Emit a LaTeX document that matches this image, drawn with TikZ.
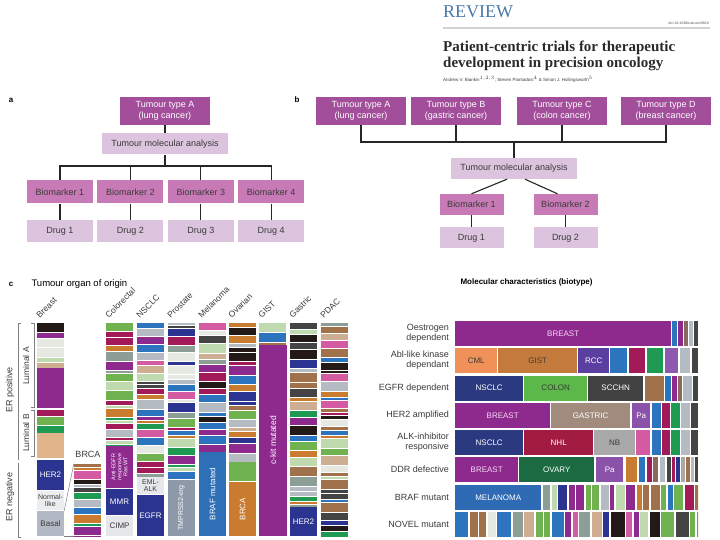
\documentclass[tikz,border=0pt]{standalone}
\usepackage{fontspec}
\setmainfont{Liberation Sans}
\newfontfamily\serifface{Liberation Serif}
\usepackage{tikz}
\usetikzlibrary{positioning}

\definecolor{tumourcol}{HTML}{A24E9A}
\definecolor{markercol}{HTML}{C77AB5}
\definecolor{lightcol}{HTML}{DCC4DE}
\definecolor{reviewcol}{HTML}{4878A8}
\definecolor{titlecol}{HTML}{2A2A2A}
\definecolor{textgray}{HTML}{3A3A3A}
% stripe palette
\definecolor{sc1}{HTML}{8E2A8E}
\definecolor{sc2}{HTML}{444444}
\definecolor{sc3}{HTML}{A0714A}
\definecolor{sc4}{HTML}{CDAE92}
\definecolor{sc5}{HTML}{B5BBC2}
\definecolor{sc6}{HTML}{BFDAAE}
\definecolor{sc7}{HTML}{1E9A52}
\definecolor{sc8}{HTML}{A31A58}
\definecolor{sc9}{HTML}{2C74BE}
\definecolor{sc10}{HTML}{2B3490}
\definecolor{sc11}{HTML}{C97B30}
\definecolor{sc12}{HTML}{231A18}
\definecolor{sc13}{HTML}{8D9E96}
\definecolor{sc14}{HTML}{6FB24F}
\definecolor{sc15}{HTML}{E6E8E2}
\definecolor{sc16}{HTML}{D45AA2}
\definecolor{beigecol}{HTML}{E2B48C}
\definecolor{normalcol}{HTML}{ECEDEF}
\definecolor{basalcol}{HTML}{B3BAC6}
\definecolor{cimpcol}{HTML}{E6E7EB}
\definecolor{tmprsscol}{HTML}{8D99A8}
\definecolor{brafcol}{HTML}{2E6FB5}
\definecolor{cmlcol}{HTML}{F0915A}
\definecolor{gistcol}{HTML}{C47A3A}
\definecolor{rcccol}{HTML}{5B3FA0}
\definecolor{nsclccol}{HTML}{2B3A80}
\definecolor{coloncol}{HTML}{5CB848}
\definecolor{scchncol}{HTML}{424242}
\definecolor{gastriccol}{HTML}{A08B7C}
\definecolor{pacol}{HTML}{8A52A8}
\definecolor{nhlcol}{HTML}{A21C42}
\definecolor{nbcol}{HTML}{A9A9A9}
\definecolor{ovarycol}{HTML}{1B6A42}
\definecolor{melcol}{HTML}{2F6AB5}
\definecolor{lilaccol}{HTML}{8E5AB0}
\definecolor{taupecol}{HTML}{8A6A60}
\definecolor{pinkwhite}{HTML}{F4D8F4}

% random stripes down a column: x left, y top, y bottom, seed
\newcommand{\organstripes}[4]{%
  \begin{scope}
    \clip (#1,#2) rectangle (#1+27,#3);
    \pgfmathsetseed{#4}
    \xdef\stripeY{#2}
    \foreach \i in {1,...,50}{
      \pgfmathsetmacro\stripeH{random(2,9)}
      \pgfmathtruncatemacro\stripeC{random(1,16)}
      \fill[fill=sc\stripeC] (#1,\stripeY) rectangle (#1+27,\stripeY+\stripeH);
      \pgfmathsetmacro\nextPos{\stripeY+\stripeH+1}
      \xdef\stripeY{\nextPos}
    }
  \end{scope}}

% random stripes along a bar: x left, x right, y top, seed, min, max width
\newcommand{\barstripes}[6]{%
  \begin{scope}
    \clip (#1,#3) rectangle (#2,#3+25);
    \pgfmathsetseed{#4}
    \xdef\stripeX{#1}
    \foreach \i in {1,...,45}{
      \pgfmathsetmacro\stripeW{random(#5,#6)}
      \pgfmathtruncatemacro\stripeC{random(1,16)}
      \fill[fill=sc\stripeC] (\stripeX,#3) rectangle (\stripeX+\stripeW,#3+25);
      \pgfmathsetmacro\nextPos{\stripeX+\stripeW+1.5}
      \xdef\stripeX{\nextPos}
    }
  \end{scope}}

\begin{document}
\begin{tikzpicture}[x=1pt, y=-1pt]
	\tikzstyle{every node}=[font=\fontsize{9}{10.5}\selectfont, text=textgray]
	\tikzstyle{tumour}=[rectangle, fill=tumourcol, text=white, minimum width=90pt, minimum height=28pt, align=center, inner sep=1pt]
	\tikzstyle{analysis}=[rectangle, fill=lightcol, minimum width=126pt, minimum height=21pt, inner sep=1pt]
	\tikzstyle{marker}=[rectangle, fill=markercol, minimum width=66pt, minimum height=23pt, inner sep=1pt]
	\tikzstyle{drug}=[rectangle, fill=lightcol, minimum width=66pt, minimum height=22pt, inner sep=1pt]
	\tikzstyle{conn}=[line width=1.1pt, black!85]
	\tikzstyle{block}=[rectangle, inner sep=0pt, minimum width=27pt, align=center, text=white, font=\fontsize{8}{9}\selectfont]
	\tikzstyle{collabel}=[anchor=south west, rotate=45, inner sep=0pt, font=\fontsize{8.5}{9}\selectfont]
	\tikzstyle{rowlabel}=[anchor=east, align=right, inner sep=0pt, font=\fontsize{9}{10}\selectfont]
	\tikzstyle{seg}=[rectangle, anchor=west, inner sep=0pt, minimum height=25pt, text=white, font=\fontsize{8}{9}\selectfont]
	\tikzstyle{bracket}=[gray, line width=0.5pt]

	\useasboundingbox (0,0) rectangle (720,540);

	% header
	\node[anchor=north west, inner sep=0pt, text=reviewcol, font=\serifface\fontsize{18}{18}\selectfont] (review) at (443,6) {REVIEW};
	\draw[line width=2.5pt, gray!35] (443,28) -- (710,28);
	\node[anchor=east, inner sep=0pt, text=gray, font=\bfseries\fontsize{3.5}{4}\selectfont] (doi) at (709,23) {doi:10.1038/nature15819};
	\node[anchor=north west, inner sep=0pt, align=left, text=titlecol, font=\serifface\bfseries\fontsize{15}{16}\selectfont] (title) at (443,41) {Patient-centric trials for therapeutic\\development in precision oncology};
	\node[anchor=west, inner sep=0pt, font=\fontsize{4.5}{5}\selectfont] (authors) at (443,79) {Andrew V. Biankin$^{1,2,3}$, Steven Piantadosi$^{4}$ \& Simon J. Hollingsworth$^{5}$};

	% panel labels
	\node[text=black, font=\bfseries\fontsize{8}{9}\selectfont] (labelA) at (11,100) {a};
	\node[text=black, font=\bfseries\fontsize{8}{9}\selectfont] (labelB) at (297,100) {b};
	\node[text=black, font=\bfseries\fontsize{8}{9}\selectfont] (labelC) at (11,284) {c};

	% panel a
	\node[tumour] (tumourA) at (165,111) {Tumour type A\\(lung cancer)};
	\node[analysis, below=8pt of tumourA] (analysisA) {Tumour molecular analysis};
	\node[marker] (bioA1) at (60,192) {Biomarker 1};
	\node[marker, right=4pt of bioA1] (bioA2) {Biomarker 2};
	\node[marker, right=4pt of bioA2] (bioA3) {Biomarker 3};
	\node[marker, right=4pt of bioA3] (bioA4) {Biomarker 4};
	\node[drug, below=16pt of bioA1] (drugA1) {Drug 1};
	\node[drug, below=16pt of bioA2] (drugA2) {Drug 2};
	\node[drug, below=16pt of bioA3] (drugA3) {Drug 3};
	\node[drug, below=16pt of bioA4] (drugA4) {Drug 4};
	\coordinate (busA) at (165,166);

	\draw[conn] (tumourA) -- (analysisA);
	\draw[conn] (analysisA) -- (busA);
	\draw[conn] (bioA1.north) |- (bioA4.north |- busA) -- (bioA4.north);
	\draw[conn] (bioA2.north) -- (bioA2.north |- busA);
	\draw[conn] (bioA3.north) -- (bioA3.north |- busA);
	\foreach \n in {1,...,4}
		\draw[conn] (bioA\n) -- (drugA\n);

	% panel b
	\node[tumour] (tumourB1) at (361,111) {Tumour type A\\(lung cancer)};
	\node[tumour] (tumourB2) at (456,111) {Tumour type B\\(gastric cancer)};
	\node[tumour] (tumourB3) at (562,111) {Tumour type C\\(colon cancer)};
	\node[tumour] (tumourB4) at (666,111) {Tumour type D\\(breast cancer)};
	\node[analysis] (analysisB) at (514,168.5) {Tumour molecular analysis};
	\node[marker, minimum width=64pt, minimum height=21pt] (bioB1) at (471.5,204.5) {Biomarker 1};
	\node[marker, minimum width=64pt, minimum height=21pt] (bioB2) at (565.5,204.5) {Biomarker 2};
	\node[drug, minimum width=64pt, minimum height=21pt, below=12pt of bioB1] (drugB1) {Drug 1};
	\node[drug, minimum width=64pt, minimum height=21pt, below=12pt of bioB2] (drugB2) {Drug 2};
	\coordinate (busB) at (514,142);

	\draw[conn] (tumourB1.south) |- (tumourB4.south |- busB) -- (tumourB4.south);
	\draw[conn] (tumourB2.south) -- (tumourB2.south |- busB);
	\draw[conn] (tumourB3.south) -- (tumourB3.south |- busB);
	\draw[conn] (busB) -- (analysisB.north);
	\draw[conn] ([xshift=-7pt]analysisB.south) -- (bioB1.north);
	\draw[conn] ([xshift=11pt]analysisB.south) -- ([xshift=-8pt]bioB2.north);
	\draw[conn] (bioB1) -- (drugB1);
	\draw[conn] (bioB2) -- (drugB2);

	% panel c, tumour organ of origin
	\node[anchor=west, text=black, font=\fontsize{9.5}{11}\selectfont] (organTitle) at (28,284) {Tumour organ of origin};
	\foreach \xl/\name in {40/Breast, 109/Colorectal, 140/NSCLC, 171/Prostate, 202/Melanoma, 232/Ovarian, 262/GIST, 293/Gastric, 324/PDAC}
		\node[collabel] (lab\name) at (\xl,319) {\name};

	\foreach \xl/\yt/\yb/\seed in {37/323/367/11, 37/410/432/12, 74/464/536/13, 106/323/445/14, 137/323/476/15, 168/323/479/16, 199/323/451/17, 229/323/461/18, 259/323/344/19, 290/323/506/20, 321/323/536/21}{
		\organstripes{\xl}{\yt}{\yb}{\seed}
	}

	% breast
	\fill[sc1] (37,368) rectangle (64,408);
	\fill[beigecol] (37,433) rectangle (64,458);
	\node[block, fill=sc10, minimum height=30pt] (her2Breast) at (50.5,474.5) {HER2};
	\node[block, fill=normalcol, minimum height=19pt, text=textgray, font=\fontsize{7}{7.5}\selectfont] (normalBreast) at (50.5,500.5) {Normal-\\like};
	\node[block, fill=basalcol, minimum height=25pt, text=textgray] (basalBreast) at (50.5,523.5) {Basal};
	\node (brcaLabel) at (88,454) {BRCA};
	\node[block, minimum height=72pt] (brcaInset) at (87.5,500) {};
	\draw[bracket] (basalBreast.north east) -- (brcaInset.north west);
	\draw[bracket] (basalBreast.south east) -- (brcaInset.south west);

	% colorectal
	\node[block, fill=sc1, rotate=90, minimum width=42pt, minimum height=27pt, font=\fontsize{5.5}{6}\selectfont] (antiEgfr) at (119.5,467) {Anti-EGFR\\responsive\\Ras WT};
	\node[block, fill=sc10, minimum height=26pt] (mmr) at (119.5,502) {MMR};
	\node[block, fill=cimpcol, minimum height=20pt, text=textgray] (cimp) at (119.5,526) {CIMP};

	% NSCLC
	\node[block, fill=cimpcol, minimum height=17pt, text=textgray, font=\fontsize{7}{7.5}\selectfont] (emlAlk) at (150.5,485.5) {EML-\\ALK};
	\node[block, fill=sc10, minimum height=41pt] (egfrNsclc) at (150.5,515.5) {EGFR};

	% prostate, melanoma, ovarian, GIST, gastric
	\node[block, fill=tmprsscol, rotate=90, minimum width=56pt, minimum height=27pt, font=\fontsize{7}{8}\selectfont] (tmprss) at (181.5,508) {TMPRSS2-erg};
	\node[block, fill=brafcol, rotate=90, minimum width=84pt, minimum height=27pt] (brafMel) at (212.5,494) {BRAF mutated};
	\fill[sc14] (229,462) rectangle (256,481);
	\node[block, fill=sc11, rotate=90, minimum width=54pt, minimum height=27pt] (brcaOva) at (242.5,509) {BRCA};
	\node[block, fill=sc1, rotate=90, minimum width=191pt, minimum height=28pt, font=\fontsize{8.5}{9}\selectfont] (ckit) at (273,440.5) {c-kit mutated};
	\node[block, fill=sc10, minimum height=29pt] (her2Gastric) at (303.5,521.5) {HER2};

	% ER and luminal brackets
	\draw[bracket] (21,323) -- (18,323) -- (18,460);
	\draw[bracket] (18,463) -- (18,537) -- (21,537);
	\draw[bracket] (31,323) -- (34,323) -- (34,407) -- (31,407);
	\draw[bracket] (31,410) -- (34,410) -- (34,456) -- (31,456);
	\node[rotate=90] (erPos) at (10,390) {ER positive};
	\node[rotate=90] (erNeg) at (10,497) {ER negative};
	\node[rotate=90, font=\fontsize{8.5}{9}\selectfont] (lumA) at (26,366) {Luminal A};
	\node[rotate=90, font=\fontsize{8.5}{9}\selectfont] (lumB) at (26,433) {Luminal B};

	% panel c, molecular characteristics
	\node[anchor=west, text=black, font=\bfseries\fontsize{8}{9}\selectfont] (bioTitle) at (457,282) {Molecular characteristics (biotype)};

	\node[rowlabel] (oesLabel) at (449,333.5) {Oestrogen\\dependent};
	\node[rowlabel] (ablLabel) at (449,360.5) {Abl-like kinase\\dependant};
	\node[rowlabel] (egfrLabel) at (449,388) {EGFR dependent};
	\node[rowlabel] (her2Label) at (449,415.5) {HER2 amplified};
	\node[rowlabel] (alkLabel) at (449,442.5) {ALK-inhibitor\\responsive};
	\node[rowlabel] (ddrLabel) at (449,469.5) {DDR defective};
	\node[rowlabel] (brafLabel) at (449,497.5) {BRAF mutant};
	\node[rowlabel] (novelLabel) at (449,524.5) {NOVEL mutant};

	% oestrogen dependent
	\node[seg, fill=sc1, minimum width=216pt, text=pinkwhite] (breastOes) at (455,333.5) {BREAST};
	\foreach \a/\b/\c in {672/677/sc9, 678/683/sc1, 684/688/taupecol, 689/693/sc5, 694/698/sc2}
		\fill[fill=\c] (\a,321) rectangle (\b,346);

	% abl-like kinase dependant
	\node[seg, fill=cmlcol, minimum width=42pt, text=textgray] (cmlAbl) at (455,360.5) {CML};
	\node[seg, fill=gistcol, minimum width=79pt, text=textgray] (gistAbl) at (498,360.5) {GIST};
	\node[seg, fill=rcccol, minimum width=31pt] (rccAbl) at (578,360.5) {RCC};
	\foreach \a/\b/\c in {610/627/sc9, 629/645/sc8, 647/663/sc7, 665/678/lilaccol, 680/690/sc5, 692/698/sc2}
		\fill[fill=\c] (\a,348) rectangle (\b,373);

	% EGFR dependent
	\node[seg, fill=nsclccol, minimum width=68pt] (nsclcEgfr) at (455,388) {NSCLC};
	\node[seg, fill=coloncol, minimum width=63pt, text=textgray] (colonEgfr) at (524,388) {COLON};
	\node[seg, fill=scchncol, minimum width=55pt] (scchnEgfr) at (588,388) {SCCHN};
	\foreach \a/\b/\c in {645/664/sc3, 665/671/sc9, 672/677/sc1, 678/682/taupecol, 683/692/sc5, 693/698/sc2}
		\fill[fill=\c] (\a,375.5) rectangle (\b,400.5);

	% HER2 amplified
	\node[seg, fill=sc1, minimum width=95pt, text=pinkwhite] (breastHer2) at (455,415.5) {BREAST};
	\node[seg, fill=gastriccol, minimum width=79pt] (gastricHer2) at (551,415.5) {GASTRIC};
	\node[seg, fill=pacol, minimum width=18pt] (paHer2) at (632,415.5) {Pa};
	\foreach \a/\b/\c in {652/661/sc9, 662/670/sc8, 671/680/sc7, 681/690/sc5, 691/698/sc2}
		\fill[fill=\c] (\a,403) rectangle (\b,428);

	% ALK-inhibitor responsive
	\node[seg, fill=nsclccol, minimum width=68pt] (nsclcAlk) at (455,442.5) {NSCLC};
	\node[seg, fill=nhlcol, minimum width=69pt] (nhlAlk) at (524,442.5) {NHL};
	\node[seg, fill=nbcol, minimum width=41pt, text=textgray] (nbAlk) at (594,442.5) {NB};
	\foreach \a/\b/\c in {636/650/sc16, 652/661/sc9, 662/670/sc8, 671/680/sc7, 681/690/sc5, 691/698/sc2}
		\fill[fill=\c] (\a,430) rectangle (\b,455);

	% DDR defective
	\node[seg, fill=sc1, minimum width=63pt, text=pinkwhite] (breastDdr) at (455,469.5) {BREAST};
	\node[seg, fill=ovarycol, minimum width=75pt] (ovaryDdr) at (519,469.5) {OVARY};
	\node[seg, fill=pacol, minimum width=27pt] (paDdr) at (596,469.5) {Pa};
	\foreach \a/\b/\c in {626/637/sc11, 639/645/sc9, 647/652/sc8, 653/658/taupecol, 660/665/sc5, 667/671/sc2, 672/675/sc8, 676/680/sc10, 681/685/nbcol, 686/690/sc3, 691/694/sc5, 695/698/sc2}
		\fill[fill=\c] (\a,457) rectangle (\b,482);

	% BRAF mutant and NOVEL mutant
	\node[seg, fill=melcol, minimum width=86pt] (melBraf) at (455,497.5) {MELANOMA};
	\barstripes{543}{698}{485}{31}{3}{9}
	\barstripes{455}{698}{512}{32}{4}{14}

\end{tikzpicture}
\end{document}
